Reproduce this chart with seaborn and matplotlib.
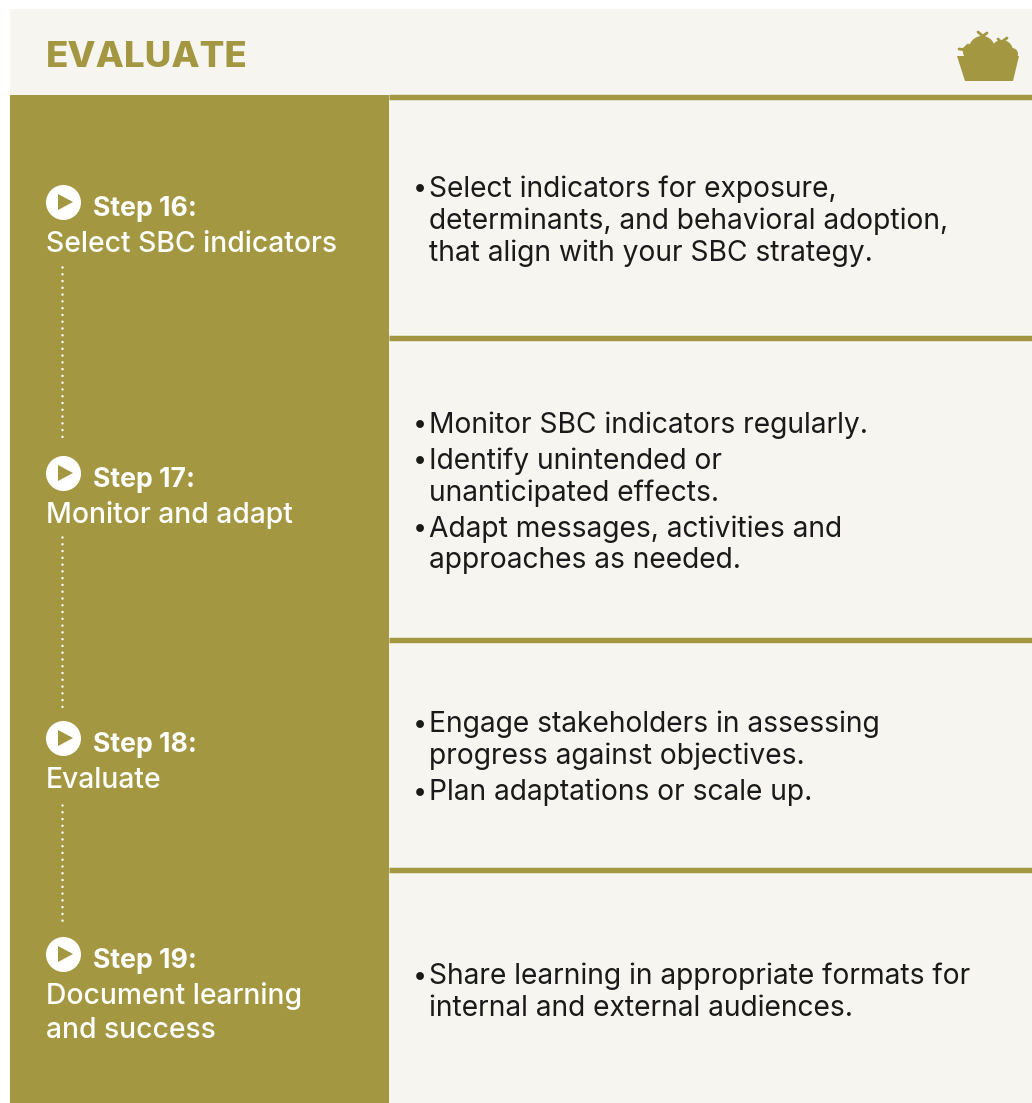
import matplotlib
matplotlib.use("Agg")
import matplotlib.pyplot as plt
from matplotlib.patches import Rectangle, Polygon, Circle
import pandas as pd
import seaborn as sns

# Content
title = "EVALUATE"
step_names = ["Step 16:", "Step 17:", "Step 18:", "Step 19:"]
step_desc = [["Select SBC indicators"], ["Monitor and adapt"], ["Evaluate"],
             ["Document learning", "and success"]]
bullets = [
    [["Select indicators for exposure,", "determinants, and behavioral adoption,",
      "that align with your SBC strategy."]],
    [["Monitor SBC indicators regularly."],
     ["Identify unintended or", "unanticipated effects."],
     ["Adapt messages, activities and", "approaches as needed."]],
    [["Engage stakeholders in assessing", "progress against objectives."],
     ["Plan adaptations or scale up."]],
    [["Share learning in appropriate formats for", "internal and external audiences."]],
]

# Layout, in reference pixels
W, H = 1032, 1103
OLIVE = "#a39741"
CREAM = "#f6f5f0"
step_y = [207, 478, 743, 959]
bullet_first_y = [[187], [423, 459, 527], [722, 790], [974]]
rule_y = [97, 338, 639.5, 869.5]
dots = [(267, 437), (537, 707), (805, 921)]
line_h = 32

sns.set_theme(style="white")
plt.rcParams["font.family"] = ["Inter", "DejaVu Sans"]

fig = plt.figure(figsize=(W / 100, H / 100), dpi=100, facecolor="white")
ax = fig.add_axes([0, 0, 1, 1])

# Panels
ax.add_patch(Rectangle((10, 9), W - 10, H - 9, fc=CREAM, ec="none", zorder=0))
ax.add_patch(Rectangle((10, 95), 379, H - 95, fc=OLIVE, ec="none", zorder=1))
for y in rule_y:
    ax.plot([389, W], [y, y], color=OLIVE, lw=3.9, solid_capstyle="butt", zorder=1)

ax.text(46, 57.5, title, color=OLIVE, fontsize=26.4, fontweight="heavy", va="center", ha="left")

# Basket icon
ax.add_patch(Polygon([(957, 56), (1019, 56), (1013, 81), (965, 81)], fc=OLIVE, ec="none", zorder=2))
for cx, cy, r in [(982, 49, 13), (1002, 51, 11), (971, 52, 8), (1012, 54, 6)]:
    ax.add_patch(Circle((cx, cy), r, fc=OLIVE, ec="none", zorder=2))
for (x0, y0, x1, y1) in [(978, 32, 985, 38), (987, 33, 980, 38), (998, 39, 1003, 44),
                         (1007, 38, 1000, 43), (959, 49, 968, 50), (968, 45, 963, 50)]:
    ax.plot([x0, x1], [y0, y1], color=OLIVE, lw=2, zorder=2)

# Step markers
markers = pd.DataFrame({"x": [63] * len(step_y), "y": [y - 5 for y in step_y]})
sns.scatterplot(data=markers, x="x", y="y", s=635, color="white", linewidth=0, ax=ax, zorder=3, legend=False)
for y in markers["y"]:
    ax.add_patch(Polygon([(58, y - 8), (58, y + 8), (73, y)], fc=OLIVE, ec="none", zorder=4))

# Step labels
for name, desc, y in zip(step_names, step_desc, step_y):
    ax.text(93, y + 2, name, color="white", fontsize=19.2, fontweight="bold", va="center", ha="left", zorder=4)
    for i, line in enumerate(desc):
        ax.text(46, y + 37 + i * 35, line, color="white", fontsize=20.4, fontweight="medium",
                va="center", ha="left", zorder=4)

# Dotted connectors
for y0, y1 in dots:
    ax.plot([62, 62], [y0, y1], color="white", lw=1.8, dashes=(0.01, 2.7),
            dash_capstyle="round", zorder=3)

# Bullets
for group, ys in zip(bullets, bullet_first_y):
    for lines, y in zip(group, ys):
        ax.text(413, y + 2, "•", color="#1a1a1a", fontsize=18, va="center", ha="left", zorder=4)
        for i, line in enumerate(lines):
            ax.text(429, y + 2 + i * line_h, line, color="#1a1a1a", fontsize=20.3, va="center", ha="left", zorder=4)

ax.set_xlim(0, W)
ax.set_ylim(H, 0)
ax.axis("off")

fig.savefig("out.png", dpi=100, facecolor="white")
